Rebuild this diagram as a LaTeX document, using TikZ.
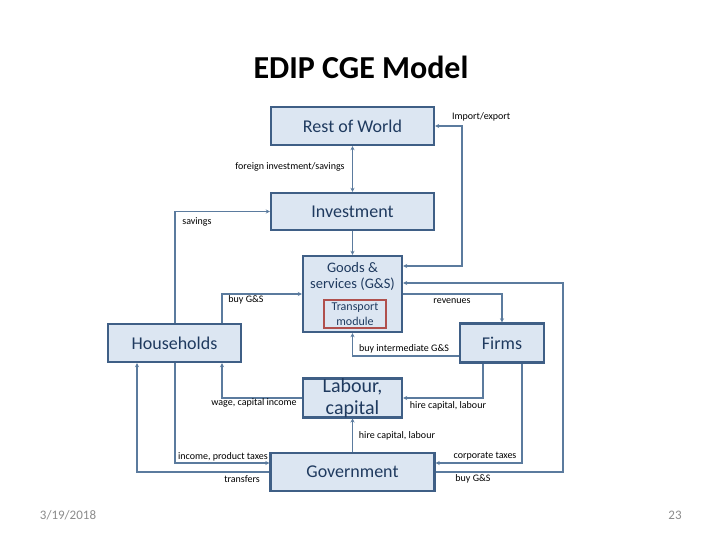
\documentclass[tikz,border=0pt]{standalone}
\usepackage{fontspec}
\setmainfont{Carlito}
\usetikzlibrary{arrows.meta}
\definecolor{boxfill}{HTML}{DCE6F2}
\definecolor{boxdraw}{HTML}{3F5F86}
\definecolor{linec}{HTML}{5B7B9E}
\definecolor{txtc}{HTML}{1F3A5F}
\definecolor{redb}{HTML}{B0504D}
\definecolor{footc}{HTML}{8C8C8C}
\begin{document}
\begin{tikzpicture}[x=1pt,y=-1pt,
  box/.style={draw=boxdraw, line width=2.4pt, fill=boxfill, text=txtc, inner sep=0pt, align=center},
  tbox/.style={draw=redb, line width=1.8pt, fill=boxfill, text=txtc, inner sep=0pt, align=center,
     font=\fontsize{12}{15}\selectfont},
  big/.style={font=\fontsize{18}{21}\selectfont},
  lbl/.style={font=\fontsize{10}{12}\selectfont, inner sep=0pt},
  conn/.style={draw=linec, line width=1.6pt, -{Stealth[length=4pt,width=4pt]}},
  connthin/.style={draw=linec, line width=1.1pt, -{Stealth[length=4pt,width=4pt]}},
  conndbl/.style={draw=linec, line width=1.8pt, {Stealth[length=4pt,width=4pt]}-{Stealth[length=4pt,width=4pt]}}
]
\useasboundingbox (0,0) rectangle (720,540);
\fill[white] (0,0) rectangle (720,540);

% title and footer
\node[font=\fontsize{32}{36}\selectfont\bfseries] (title) at (361,67) {EDIP CGE Model};
\node[font=\fontsize{13}{15}\selectfont, text=footc] (date) at (68,515) {3/19/2018};
\node[font=\fontsize{13}{15}\selectfont, text=footc] (page) at (675,515) {23};

% boxes
\node[box, big, minimum width=163pt, minimum height=38pt] (row) at (352.5,126) {Rest of World};
\node[box, big, minimum width=163pt, minimum height=37pt] (inv) at (352.5,211.5) {Investment};
\node[box, minimum width=99pt, minimum height=76pt] (goods) at (352.5,294) {};
\node[text=txtc, align=center, inner sep=0pt, font=\fontsize{14.5}{16}\selectfont] (goodstxt) at (352.5,276) {Goods \&\\services (G\&S)};
\node[tbox, minimum width=62pt, minimum height=28pt] (trans) at (355,314) {Transport\\module};
\node[box, big, minimum width=133pt, minimum height=38pt] (hh) at (174.5,343) {Households};
\node[box, big, minimum width=84pt, minimum height=39pt] (firms) at (502,343) {Firms};
\node[box, font=\fontsize{20}{21.5}\selectfont, minimum width=99pt, minimum height=38pt] (lab) at (352.5,398) {Labour,\\capital};
\node[box, big, minimum width=164pt, minimum height=38pt] (gov) at (352.5,472) {Government};

% corner coordinates
\coordinate (ie) at (462,266);
\coordinate (sv) at (175,212);
\coordinate (bg) at (222,294);
\coordinate (rv) at (502,294);
\coordinate (bi) at (352.5,356);
\coordinate (wg) at (222,398);
\coordinate (hf) at (483,398);
\coordinate (it) at (175,463);
\coordinate (tr) at (137,472);
\coordinate (ct) at (522,463);
\coordinate (bgg) at (563,283);

% connectors
\draw[conndbl] (row) -- (inv);
\draw[conndbl] (row.east) -| (ie) -- (goods.east |- ie);
\draw[conn] (hh.north -| sv) |- (inv.west);
\draw[conn] (inv) -- (goods);
\draw[connthin] (hh.north -| bg) |- (goods.west |- bg);
\draw[connthin] (goods.east |- rv) -| (firms.north);
\draw[connthin] (firms.west |- bi) -| (goods.south);
\draw[connthin] (lab.west) -| (hh.south -| wg);
\draw[conn] (firms.south -| hf) |- (lab.east);
\draw[conn] (gov) -- (lab);
\draw[conn] (hh.south -| it) |- (gov.west |- it);
\draw[conn] (gov.west) -| (hh.south -| tr);
\draw[conn] (firms.south -| ct) |- (gov.east |- ct);
\draw[conn] (gov.east) -| (bgg) -- (goods.east |- bgg);

% labels
\node[lbl, anchor=west] (l1) at (452,117) {Import/export};
\node[lbl] (l2) at (290,167) {foreign investment/savings};
\node[lbl] (l3) at (197,222) {savings};
\node[lbl] (l4) at (246,300) {buy G\&S};
\node[lbl] (l5) at (452,301) {revenues};
\node[lbl] (l6) at (404,349) {buy intermediate G\&S};
\node[lbl] (l7) at (254,403) {wage, capital income};
\node[lbl] (l8) at (448,406) {hire capital, labour};
\node[lbl] (l9) at (397,436) {hire capital, labour};
\node[lbl] (l10) at (223,457) {income, product taxes};
\node[lbl] (l11) at (242,479) {transfers};
\node[lbl] (l12) at (485,456) {corporate taxes};
\node[lbl] (l13) at (473,479) {buy G\&S};
\end{tikzpicture}
\end{document}
